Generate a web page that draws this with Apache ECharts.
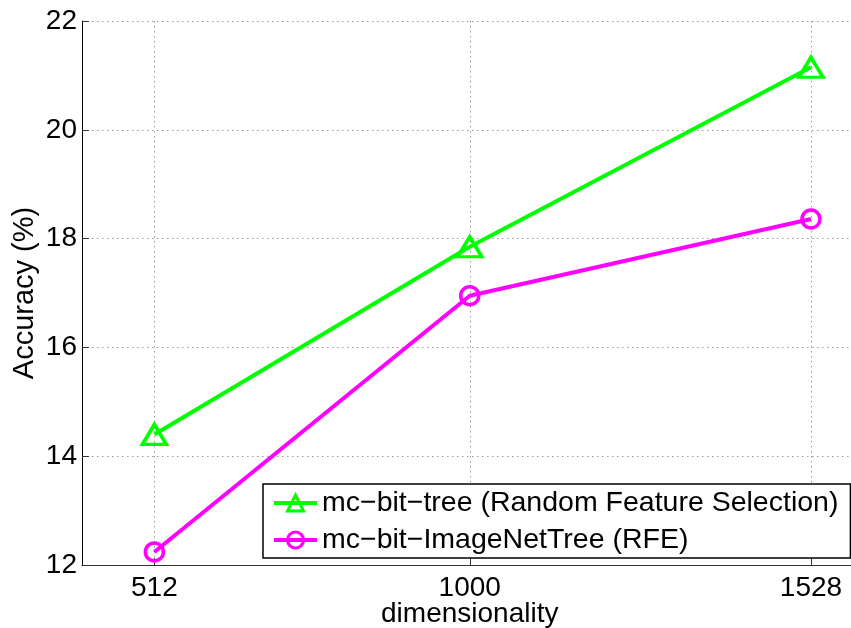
<!DOCTYPE html>
<html>
<head>
<meta charset="utf-8">
<script src="https://cdn.jsdelivr.net/npm/echarts@6/dist/echarts.min.js"></script>
<style>
  html, body { margin: 0; padding: 0; background: #ffffff; }
  #chart { width: 851px; height: 628px; }
</style>
</head>
<body>
<div id="chart"></div>
<script>
// Feature dimensionality on the x axis
const dims = [512, 1000, 1528];
// Accuracy (%) for each method
const treeAcc = [14.4, 17.85, 21.15];
const imageNetAcc = [12.24, 16.95, 18.36];
const seriesNames = [
  'mc\u2212bit\u2212tree (Random Feature Selection)',
  'mc\u2212bit\u2212ImageNetTree (RFE)'
];
const xTicks = [512, 1000, 1528];
const yTicks = [12, 14, 16, 18, 20, 22];

const FONT = '"Liberation Sans", Arial, Helvetica, sans-serif';
const GREEN = '#00ff00';
const MAGENTA = '#ff00ff';

const pairs = (xs, ys) => xs.map((x, i) => [x, ys[i]]);

const chart = echarts.init(document.getElementById('chart'), null, { renderer: 'canvas' });

const gridLine = { show: true, lineStyle: { color: '#9a9a9a', width: 1, type: [1.5, 3.5] } };

chart.setOption({
  animation: false,
  backgroundColor: '#ffffff',
  textStyle: { fontFamily: FONT },
  grid: { left: 82, top: 21, width: 775.5, height: 544, containLabel: false, outerBoundsMode: 'none' },
  xAxis: {
    type: 'value',
    min: 400,
    max: 1600,
    name: 'dimensionality',
    nameLocation: 'middle',
    nameGap: 35,
    nameMoveOverlap: false,
    nameTextStyle: { fontFamily: FONT, fontSize: 28, color: '#000' },
    axisLine: { show: true, onZero: false, lineStyle: { color: '#333', width: 1 } },
    axisTick: { show: true, inside: true, length: 7, customValues: xTicks, lineStyle: { color: '#333' } },
    axisLabel: {
      customValues: xTicks, margin: 9, fontFamily: FONT, fontSize: 28, color: '#000',
      formatter: v => String(v)
    },
    splitLine: gridLine
  },
  yAxis: {
    type: 'value',
    min: yTicks[0],
    max: yTicks[yTicks.length - 1],
    interval: 2,
    name: 'Accuracy (%)',
    nameLocation: 'middle',
    nameGap: 43,
    nameMoveOverlap: false,
    nameTextStyle: { fontFamily: FONT, fontSize: 29, color: '#000' },
    axisLine: { show: true, lineStyle: { color: '#000', width: 1 } },
    axisTick: { show: true, inside: true, length: 7, lineStyle: { color: '#333' } },
    axisLabel: { margin: 5, fontFamily: FONT, fontSize: 28, color: '#000' },
    splitLine: gridLine
  },
  legend: {
    left: 263,
    top: 484,
    orient: 'vertical',
    backgroundColor: '#ffffff',
    borderColor: '#000',
    borderWidth: 1.5,
    padding: [4, 12, 3, 9],
    itemWidth: 43,
    itemHeight: 20,
    itemGap: 7,
    lineStyle: { width: 4 },
    itemStyle: { borderWidth: 3 },
    textStyle: { fontFamily: FONT, fontSize: 28.5, color: '#000', lineHeight: 30 },
    data: seriesNames
  },
  series: [
    {
      name: seriesNames[0],
      type: 'line',
      data: pairs(dims, treeAcc),
      symbol: 'triangle',
      symbolSize: [24, 20],
      lineStyle: { color: GREEN, width: 4 },
      itemStyle: { color: 'rgba(0,0,0,0)', borderColor: GREEN, borderWidth: 3.5 },
      z: 3
    },
    {
      name: seriesNames[1],
      type: 'line',
      data: pairs(dims, imageNetAcc),
      symbol: 'circle',
      symbolSize: 18,
      lineStyle: { color: MAGENTA, width: 4 },
      itemStyle: { color: 'rgba(0,0,0,0)', borderColor: MAGENTA, borderWidth: 3.5 },
      z: 2
    }
  ]
});
</script>
</body>
</html>
